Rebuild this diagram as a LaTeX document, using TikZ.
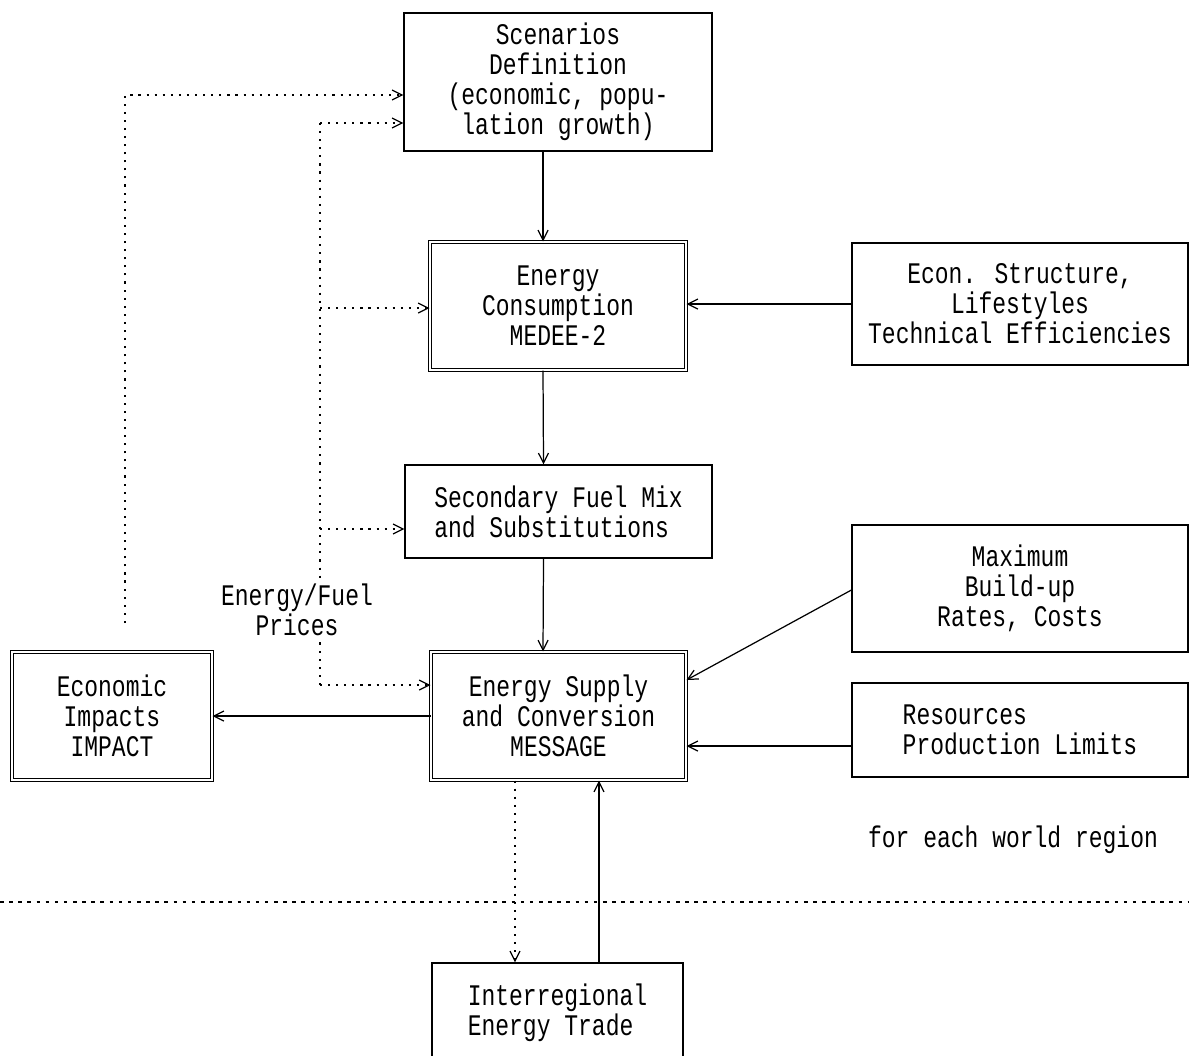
\documentclass[tikz,border=0pt]{standalone}
\usepackage{fontspec}
\newfontfamily\printfont[FakeStretch=0.77]{Liberation Mono}
\usetikzlibrary{arrows.meta,positioning}
\tikzset{
    % Base box style
    basebox/.style={
        draw=black,
        fill=white,
        line width=0.7pt,
        inner sep=2pt,
        align=center,
        font=\printfont\fontsize{17}{17}\selectfont
    },
    % Input box (single border)
    inputbox/.style={
        basebox
    },
    % Model box (double border)
    modelbox/.style={
        basebox,
        double,
        double distance=1.6pt,
        line width=0.6pt
    },
    % Plain label
    plainlabel/.style={
        align=center,
        inner sep=1pt,
        font=\printfont\fontsize{17}{17}\selectfont
    },
    % Arrow styles
    myarrow/.style={
        -{Straight Barb[length=2mm,width=2mm]},
        line width=0.7pt,
        draw=black
    },
    % Dotted arrow (price signals)
    dotarrow/.style={
        myarrow,
        dash pattern=on 1.2pt off 3.4pt
    },
    % Dotted line without tip
    dotline/.style={
        line width=0.7pt,
        dash pattern=on 1.2pt off 3.4pt
    },
    % Region separator
    sepline/.style={
        line width=0.7pt,
        dash pattern=on 2pt off 3.2pt
    }
}
\begin{document}
\begin{tikzpicture}[x=0.02cm, y=-0.02cm]
    \useasboundingbox (0,0) rectangle (1189,1055);

    % Centre column
    \node[inputbox, minimum width=6.16cm, minimum height=2.76cm] (scen) at (558,82)
        {Scenarios\\Definition\\(economic, popu-\\lation growth)};
    \node[modelbox, minimum width=5.12cm, minimum height=2.56cm] (cons) at (558,306)
        {Energy\\Consumption\\MEDEE-2};
    \node[inputbox, align=left, minimum width=6.14cm, minimum height=1.86cm] (sec) at (558.5,511.5)
        {Secondary Fuel Mix\\and Substitutions};
    \node[modelbox, minimum width=5.1cm, minimum height=2.56cm] (supply) at (558.5,716)
        {Energy Supply\\and Conversion\\MESSAGE};
    \node[inputbox, align=left, minimum width=5.02cm, minimum height=1.98cm] (trade) at (557.5,1012.5)
        {Interregional\\Energy Trade};

    % Left side
    \node[modelbox, minimum width=4cm, minimum height=2.56cm] (impact) at (112,716)
        {Economic\\Impacts\\IMPACT};
    \node[plainlabel, fill=white] (prices) at (297,610) {Energy/Fuel\\Prices};

    % Right side inputs
    \node[inputbox, minimum width=6.72cm, minimum height=2.44cm] (econ) at (1020,304)
        {Econ. Structure,\\Lifestyles\\Technical Efficiencies};
    \node[inputbox, minimum width=6.72cm, minimum height=2.54cm] (maxb) at (1020,588.5)
        {Maximum\\Build-up\\Rates, Costs};
    \node[inputbox, align=left, minimum width=6.72cm, minimum height=1.88cm] (res) at (1020,730)
        {Resources\\Production Limits};
    \node[plainlabel] (region) at (1013,840) {for each world region};

    % Feedback coordinates
    \coordinate (impfb) at (125,623);
    \coordinate (impturn) at (125,95);
    \coordinate (p1) at (320,123);
    \coordinate (p2) at (320,308);
    \coordinate (p3) at (320,529);
    \coordinate (p4) at (320,685);

    % Main chain
    \draw[myarrow] ([xshift=-0.3cm]scen.south) -- ([xshift=-0.3cm]cons.north);
    \draw[myarrow] ([xshift=-0.3cm]cons.south) -- ([xshift=-0.3cm]sec.north);
    \draw[myarrow] ([xshift=-0.3cm]sec.south) -- ([xshift=-0.31cm]supply.north);
    \draw[myarrow] (supply.west) -- (impact.east);

    % Inputs from the right
    \draw[myarrow] (econ.west) -- (econ.west -| cons.east);
    \draw[myarrow] ([yshift=-0.03cm]maxb.west) -- ([yshift=0.72cm]supply.east);
    \draw[myarrow] ([yshift=-0.32cm]res.west) -- ([yshift=-0.32cm]res.west -| supply.east);

    % Trade between regions
    \draw[dotarrow] ([xshift=-0.87cm]supply.south) -- ([xshift=-0.87cm]supply.south |- trade.north);
    \draw[myarrow] ([xshift=0.81cm]supply.south |- trade.north) -- ([xshift=0.81cm]supply.south);

    % Feedback from IMPACT
    \draw[dotarrow] (impfb) -- (impturn) -- (impturn -| scen.west);

    % Energy/fuel prices
    \draw[dotline] (p4) -- (p4 |- prices.south);
    \draw[dotline] (p1) -- (p1 |- prices.north);
    \draw[dotarrow] (p1) -- (p1 -| scen.west);
    \draw[dotarrow] (p2) -- (p2 -| cons.west);
    \draw[dotarrow] (p3) -- (p3 -| sec.west);
    \draw[dotarrow] (p4) -- (p4 -| supply.west);

    % Region boundary
    \draw[sepline] (0,902) -- (1189,902);
\end{tikzpicture}
\end{document}
